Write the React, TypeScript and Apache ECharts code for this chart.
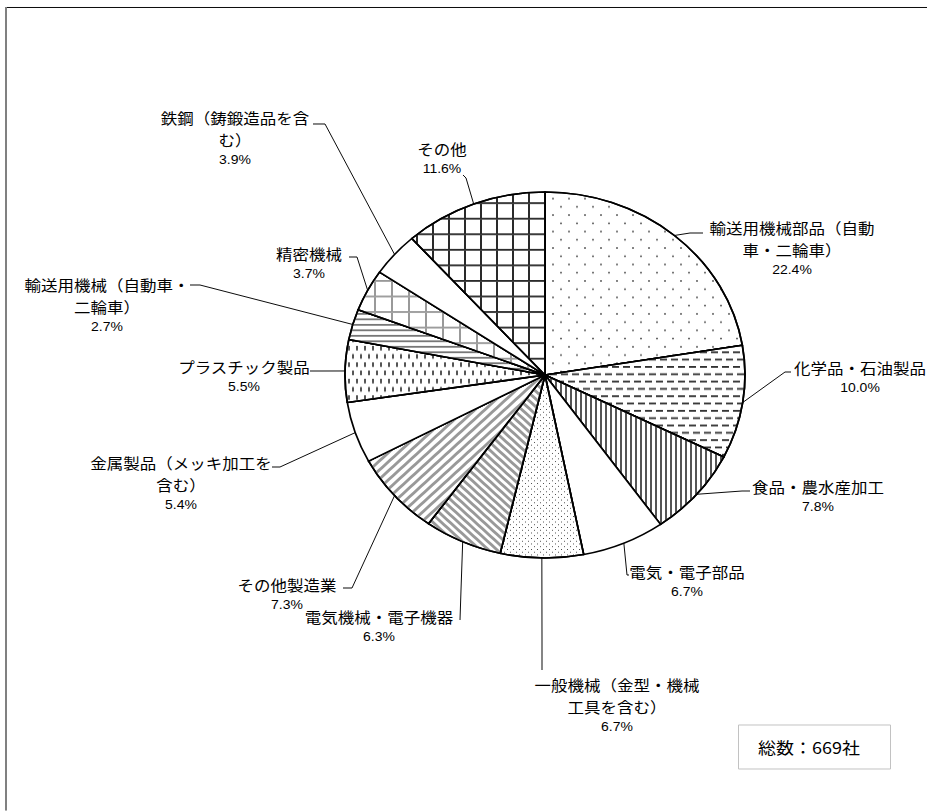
import React, { useEffect, useRef } from 'react';
import * as echarts from 'echarts';

// ---- data ----
const categories: string[] = [
  '輸送用機械部品（自動車・二輪車）',
  '化学品・石油製品',
  '食品・農水産加工',
  '電気・電子部品',
  '一般機械（金型・機械工具を含む）',
  '電気機械・電子機器',
  'その他製造業',
  '金属製品（メッキ加工を含む）',
  'プラスチック製品',
  '輸送用機械（自動車・二輪車）',
  '精密機械',
  '鉄鋼（鋳鍛造品を含む）',
  'その他',
];
// how each category name is broken into lines in its label
const labelRows: string[][] = [
  ['輸送用機械部品（自動', '車・二輪車）'],
  ['化学品・石油製品'],
  ['食品・農水産加工'],
  ['電気・電子部品'],
  ['一般機械（金型・機械', '工具を含む）'],
  ['電気機械・電子機器'],
  ['その他製造業'],
  ['金属製品（メッキ加工を', '含む）'],
  ['プラスチック製品'],
  ['輸送用機械（自動車・', '二輪車）'],
  ['精密機械'],
  ['鉄鋼（鋳鍛造品を含', 'む）'],
  ['その他'],
];
const shares: number[] = [22.4, 10.0, 7.8, 6.7, 6.7, 6.3, 7.3, 5.4, 5.5, 2.7, 3.7, 3.9, 11.6];
const totalText = '総数：669社';

// ---- layout (page px of the reference; y is divided by S below) ----
const S = 0.915; // vertical squash of the reference picture
const W = 927;
const H = Math.round(811 / S);
// [text centre x, first line centre y, elbow x, elbow y, end x, end y]
const labelPlace: number[][] = [
  [792, 228, 690, 233, 703, 233],
  [860, 368, 785, 372, 791, 372],
  [818, 487, 742, 491, 750, 491],
  [687, 572, 627, 575, 629, 575],
  [617, 685, 542, 640, 542, 670],
  [379, 617, 461, 590, 460, 620],
  [287, 585, 352, 588, 343, 588],
  [181, 463, 280, 467, 272, 467],
  [244, 367, 320, 371, 310, 371],
  [107, 285, 200, 285, 190, 285],
  [309, 254, 357, 257, 349, 257],
  [235, 118, 325, 124, 313, 124],
  [442, 149, 466, 178, 463, 175],
];

// ---- fill patterns ----
const decals: any[] = [
  { symbol: 'rect', symbolSize: 0.75, color: '#222', dashArrayX: [[2, 14], [0, 8, 2, 6]], dashArrayY: [2, 7] },
  { symbol: 'rect', symbolSize: 1, color: '#333', dashArrayX: [[7, 4], [3, 4, 4, 0]], dashArrayY: [2, 6] },
  { symbol: 'rect', symbolSize: 1, color: '#555', dashArrayX: [2, 3], dashArrayY: [1, 0] },
  null,
  { symbol: 'rect', symbolSize: 1, color: '#444', dashArrayX: [[1, 5], [0, 3, 1, 2]], dashArrayY: [1, 2] },
  { symbol: 'rect', symbolSize: 1, color: '#999', dashArrayX: [1, 0], dashArrayY: [3, 3], rotation: Math.PI / 4 },
  { symbol: 'rect', symbolSize: 1, color: '#999', dashArrayX: [1, 0], dashArrayY: [3, 4], rotation: -Math.PI / 4 },
  null,
  { symbol: 'rect', symbolSize: 1, color: '#555', dashArrayX: [[2, 6], [0, 4, 2, 2]], dashArrayY: [5, 4] },
  { symbol: 'rect', symbolSize: 1, color: '#777', dashArrayX: [1, 0], dashArrayY: [2, 4] },
  { symbol: 'rect', symbolSize: 1, color: '#999', dashArrayX: [[17, 0], [2, 15]], dashArrayY: [2, 0, 15, 0] },
  null,
  { symbol: 'rect', symbolSize: 1, color: '#2a2a2a', dashArrayX: [[16, 0], [2, 14]], dashArrayY: [2, 0, 15, 0] },
];

const JP = '"Noto Sans CJK JP", "Noto Sans CJK SC", sans-serif';

export default function App() {
  const ref = useRef<HTMLDivElement>(null);
  useEffect(() => {
    if (!ref.current) return;
    const chart = echarts.init(ref.current, null, { renderer: 'svg' });
    const option: any = {
      animation: false,
      backgroundColor: '#fff',
      graphic: [
        { type: 'line', silent: true, shape: { x1: 6, y1: 7.5 / S, x2: W, y2: 7.5 / S }, style: { stroke: '#000', lineWidth: 1 } },
        { type: 'line', silent: true, shape: { x1: 6, y1: 7 / S, x2: 6, y2: H }, style: { stroke: '#808080', lineWidth: 2 } },
        { type: 'rect', silent: true, shape: { x: 738.5, y: 725 / S, width: 152, height: 44 / S }, style: { fill: '#fff', stroke: '#bfbfbf', lineWidth: 1 } },
        {
          type: 'text', silent: true, x: 809, y: 747 / S,
          style: { text: totalText, fontSize: 18, fontFamily: JP, fill: '#000', align: 'center', verticalAlign: 'middle' },
        },
      ],
      series: [
        {
          type: 'pie',
          center: [545, 375 / S],
          radius: 200,
          startAngle: 90,
          clockwise: true,
          avoidLabelOverlap: false,
          emphasis: { disabled: true },
          itemStyle: { borderColor: '#000', borderWidth: 1.7 },
          label: {
            show: true,
            position: 'outside',
            color: '#000',
            formatter: (p: any) =>
              labelRows[p.dataIndex].map((r) => `{n|${r}}`).join('\n') + `\n{p|${Number(p.value).toFixed(1)}%}`,
            rich: {
              n: { fontFamily: JP, fontSize: 16.5, lineHeight: 24, color: '#000', align: 'center' },
              p: { fontFamily: '"Liberation Sans", Arial, sans-serif', fontSize: 14, lineHeight: 20, color: '#000', align: 'center' },
            },
          },
          labelLine: { show: true, smooth: false, lineStyle: { color: '#000', width: 1 } },
          labelLayout: (params: any) => {
            const i = params.dataIndex;
            const [cx, y1, ex, ey, tx, ty] = labelPlace[i];
            const p0 = params.labelLinePoints && params.labelLinePoints[0] ? params.labelLinePoints[0] : [ex, ey / S];
            return {
              x: cx,
              y: y1 / S - 12,
              align: 'center',
              verticalAlign: 'top',
              labelLinePoints: [p0, [ex, ey / S], [tx, ty / S]],
            };
          },
          data: shares.map((v, i) => {
            const item: any = { value: v, name: categories[i], itemStyle: { color: '#fff' } };
            if (decals[i]) item.itemStyle.decal = decals[i];
            return item;
          }),
        },
      ],
    };
    chart.setOption(option);
    return () => chart.dispose();
  }, []);
  return (
    <div style={{ position: 'absolute', left: 0, top: 0, width: W, height: 811, overflow: 'hidden', background: '#fff' }}>
      <div ref={ref} style={{ width: W, height: H, transform: `scaleY(${S})`, transformOrigin: '0 0' }} />
    </div>
  );
}
